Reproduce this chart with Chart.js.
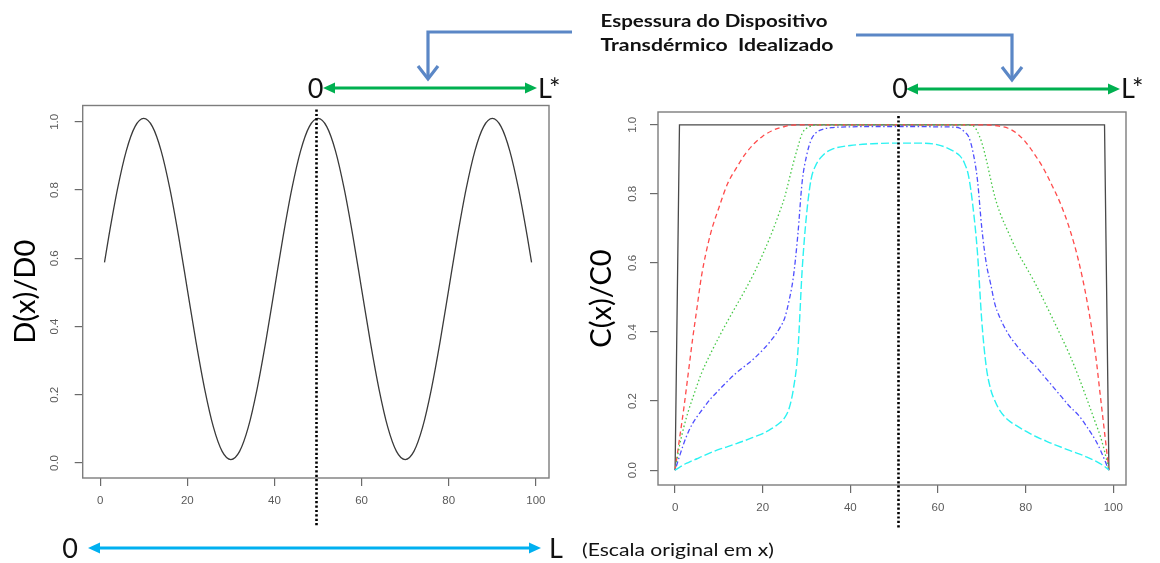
<!DOCTYPE html>
<html>
<head>
<meta charset="utf-8">
<script src="https://cdn.jsdelivr.net/npm/chart.js@4.4.1/dist/chart.umd.min.js"></script>
<style>
  html, body { margin: 0; padding: 0; background: #fff; }
  #wrap { position: relative; width: 1160px; height: 563px; overflow: hidden; background: #fff; }
  #wrap canvas, #wrap svg { position: absolute; left: 0; top: 0; }
  .ann { font-family: Lato, "Open Sans", sans-serif; fill: #111; }
</style>
</head>
<body>
<div id="wrap">
  <canvas id="chartD" width="1160" height="563"></canvas>
  <canvas id="chartC" width="1160" height="563"></canvas>
  <svg width="1160" height="563" viewBox="0 0 1160 563">
    <!-- caption with elbow connectors -->
    <text class="ann" x="714" y="27" text-anchor="middle" font-weight="700" font-size="16.5" textLength="227" lengthAdjust="spacingAndGlyphs">Espessura do Dispositivo</text>
    <text class="ann" x="717" y="51" text-anchor="middle" font-weight="700" font-size="16.5" textLength="233" lengthAdjust="spacingAndGlyphs" style="white-space:pre">Transdérmico  Idealizado</text>
    <g fill="none" stroke="#5b87c6" stroke-width="3.2" stroke-linejoin="miter">
      <polyline points="572,32 428,32 428,78"/>
      <polyline points="418,66 428,79 438,66"/>
      <polyline points="856,35 1012,35 1012,78"/>
      <polyline points="1002,67 1012,80 1022,67"/>
    </g>
    <!-- scaled thickness 0 .. L* -->
    <g stroke="#00b050" stroke-width="3" fill="#00b050">
      <line x1="332" y1="88" x2="528" y2="88"/>
      <polygon stroke="none" points="323,88 335,82.5 335,93.5"/>
      <polygon stroke="none" points="537,88 525,82.5 525,93.5"/>
      <line x1="915" y1="89" x2="1111" y2="89"/>
      <polygon stroke="none" points="906,89 918,83.5 918,94.5"/>
      <polygon stroke="none" points="1120,89 1108,83.5 1108,94.5"/>
    </g>
    <text class="ann" x="315.5" y="98" text-anchor="middle" font-size="27">0</text>
    <text class="ann" x="538" y="98" font-size="27">L*</text>
    <text class="ann" x="900" y="98" text-anchor="middle" font-size="27">0</text>
    <text class="ann" x="1121" y="98" font-size="27">L*</text>
    <!-- original scale 0 .. L -->
    <g stroke="#00b0f0" stroke-width="3" fill="#00b0f0">
      <line x1="97" y1="548" x2="532" y2="548"/>
      <polygon stroke="none" points="88,548 100,542.5 100,553.5"/>
      <polygon stroke="none" points="541,548 529,542.5 529,553.5"/>
    </g>
    <text class="ann" x="70" y="558" text-anchor="middle" font-size="27">0</text>
    <text class="ann" x="549" y="558" font-size="27">L</text>
    <text class="ann" x="582" y="556" font-size="17.5" textLength="192" lengthAdjust="spacingAndGlyphs">(Escala original em x)</text>
  </svg>
</div>
<script>
// Relative diffusivity D(x)/D0 along the device
const xD = [1, 2, 4, 6, 8, 10, 12, 14, 16, 18, 20, 22, 24, 26, 28, 30, 32, 34, 36, 38, 40,
            42, 44, 46, 48, 50, 52, 54, 56, 58, 60, 62, 64, 66, 68, 70, 72, 74, 76, 78, 80,
            82, 84, 86, 88, 90, 92, 94, 96, 98, 99];
const dRatio = [0.588, 0.665, 0.804, 0.915, 0.986, 1.01, 0.986, 0.915, 0.804, 0.665, 0.51,
                0.355, 0.216, 0.105, 0.034, 0.01, 0.034, 0.105, 0.216, 0.355, 0.51,
                0.665, 0.804, 0.915, 0.986, 1.01, 0.986, 0.915, 0.804, 0.665, 0.51,
                0.355, 0.216, 0.105, 0.034, 0.01, 0.034, 0.105, 0.216, 0.355, 0.51,
                0.665, 0.804, 0.915, 0.986, 1.01, 0.986, 0.915, 0.804, 0.665, 0.588];

// Concentration profiles C(x)/C0 at successive times
const xC = [0, 1, 2, 3, 4, 5, 6, 8, 10, 12, 14, 16, 18, 20, 22, 24, 25, 26, 27, 28, 29, 30, 31, 32,
            34, 36, 40, 45, 50, 55, 60, 64, 65, 66, 67, 68, 69, 70, 71, 72, 73, 74, 76, 78, 80,
            82, 84, 86, 88, 90, 92, 94, 96, 97, 98, 99];
const cRed = [0, 0.09, 0.18, 0.28, 0.38, 0.47, 0.56,
              0.68, 0.76, 0.83, 0.875, 0.915, 0.945, 0.967, 0.982, 0.992, 0.995, 0.998, 0.999, 1, 1, 1, 1, 1,
              1, 1, 1, 1, 1, 1, 1,
              1, 1, 1, 1, 1, 1, 1, 1, 0.999, 0.998, 0.996, 0.99, 0.975, 0.95,
              0.915, 0.875, 0.825, 0.77, 0.70, 0.61, 0.49, 0.33, 0.22, 0.11, 0];
const cGreen = [0, 0.07, 0.125, 0.17, 0.208, 0.245, 0.28,
                0.335, 0.385, 0.432, 0.477, 0.522, 0.57, 0.625, 0.685, 0.753, 0.79, 0.84, 0.89, 0.935, 0.975, 0.99, 0.996, 0.999,
                1, 1, 1, 1, 1, 1, 1,
                1, 1, 1, 0.999, 0.997, 0.98, 0.948, 0.9, 0.843, 0.79, 0.75, 0.69, 0.635, 0.59,
                0.545, 0.495, 0.443, 0.39, 0.335, 0.273, 0.205, 0.135, 0.1, 0.055, 0];
const cBlue = [0, 0.04, 0.078, 0.11, 0.135, 0.155, 0.172,
               0.205, 0.232, 0.258, 0.282, 0.302, 0.323, 0.348, 0.377, 0.414, 0.44, 0.49, 0.56, 0.68, 0.835, 0.91, 0.955, 0.975,
               0.988, 0.992, 0.994, 0.995, 0.995, 0.995, 0.994,
               0.993, 0.99, 0.98, 0.965, 0.92, 0.84, 0.70, 0.6, 0.54, 0.48, 0.445, 0.395, 0.36, 0.33,
               0.305, 0.275, 0.245, 0.215, 0.185, 0.16, 0.125, 0.085, 0.06, 0.03, 0];
const cCyan = [0, 0.008, 0.016, 0.022, 0.028, 0.033, 0.039,
               0.05, 0.06, 0.068, 0.077, 0.086, 0.096, 0.106, 0.12, 0.138, 0.152, 0.178, 0.235, 0.34, 0.58, 0.74, 0.84, 0.88,
               0.915, 0.93, 0.94, 0.945, 0.947, 0.947, 0.942,
               0.92, 0.91, 0.89, 0.85, 0.76, 0.63, 0.43, 0.3, 0.235, 0.2, 0.175, 0.145, 0.128, 0.113,
               0.099, 0.088, 0.077, 0.067, 0.057, 0.048, 0.038, 0.026, 0.019, 0.011, 0];
// initial (loaded) profile
const stepX = [0, 1, 98, 99];
const stepY = [0, 1, 1, 0];

// axes
const xTicks = [0, 20, 40, 60, 80, 100];
const yTicks = [0, 0.2, 0.4, 0.6, 0.8, 1.0];
const yTickLabels = ['0.0', '0.2', '0.4', '0.6', '0.8', '1.0'];

const pts = (xs, ys) => xs.map((x, i) => ({ x: x, y: ys[i] }));
const AXIS_FONT = '"Liberation Sans", Arial, sans-serif';

// Frame, rotated y tick labels and the dotted centre marker
const framePlugin = {
  id: 'frame',
  afterDatasetsDraw(chart, args, opts) {
    const { ctx, chartArea: a, scales } = chart;
    ctx.save();
    ctx.strokeStyle = '#7d7d7d';
    ctx.lineWidth = 1.4;
    ctx.strokeRect(a.left, a.top, a.right - a.left, a.bottom - a.top);

    ctx.fillStyle = '#5a5a5a';
    ctx.font = '11.5px ' + AXIS_FONT;
    ctx.textAlign = 'center';
    ctx.textBaseline = 'middle';
    yTicks.forEach((v, i) => {
      const py = scales.y.getPixelForValue(v);
      ctx.save();
      ctx.translate(a.left - opts.labelGap, py);
      ctx.rotate(-Math.PI / 2);
      ctx.fillText(yTickLabels[i], 0, 0);
      ctx.restore();
    });

    const px = Math.round(scales.x.getPixelForValue(opts.markX)) + 0.5;
    ctx.strokeStyle = '#000';
    ctx.lineWidth = 2.6;
    ctx.setLineDash([2.2, 2.2]);
    ctx.beginPath();
    ctx.moveTo(px, a.top + 4);
    ctx.lineTo(px, a.bottom + opts.markBelow);
    ctx.stroke();
    ctx.restore();
  }
};

function axes(xr, yr, yTitle, yAxisWidth, titlePad) {
  const grid = { drawOnChartArea: false, drawTicks: true, tickLength: 8, color: '#6a6a6a', lineWidth: 1.2 };
  return {
    x: {
      type: 'linear', min: xr[0], max: xr[1],
      afterBuildTicks: s => { s.ticks = xTicks.map(v => ({ value: v })); },
      afterFit: s => { s.height = 40; },
      grid: grid,
      border: { display: false },
      ticks: { color: '#5a5a5a', font: { size: 11.5, family: AXIS_FONT }, padding: 8,
               maxRotation: 0, autoSkip: false, callback: v => String(v) }
    },
    y: {
      type: 'linear', min: yr[0], max: yr[1],
      afterBuildTicks: s => { s.ticks = yTicks.map(v => ({ value: v })); },
      afterFit: s => { s.width = yAxisWidth; },
      grid: grid,
      border: { display: false },
      ticks: { display: false },
      title: { display: true, text: yTitle, color: '#000',
               font: { family: 'Lato', size: 29 }, padding: { top: titlePad, bottom: 0 } }
    }
  };
}

const common = {
  responsive: false,
  animation: false,
  devicePixelRatio: 1,
  events: [],
  plugins: { legend: { display: false }, tooltip: { enabled: false } },
  elements: { point: { radius: 0 } }
};

new Chart(document.getElementById('chartD'), {
  type: 'line',
  data: {
    datasets: [{
      data: pts(xD, dRatio), borderColor: '#3a3a3a', borderWidth: 1.3,
      cubicInterpolationMode: 'monotone', fill: false
    }]
  },
  options: Object.assign({}, common, {
    layout: { padding: { left: 0, top: 105.5, right: 611, bottom: 45 } },
    scales: axes([-4, 103], [-0.044, 1.048], 'D(x)/D0', 82.7, 8),
    plugins: Object.assign({}, common.plugins, { frame: { labelGap: 28, markX: 49.6, markBelow: 49 } })
  }),
  plugins: [framePlugin]
});

new Chart(document.getElementById('chartC'), {
  type: 'line',
  data: {
    datasets: [
      { data: pts(stepX, stepY), borderColor: '#4a4a4a', borderWidth: 1.3, tension: 0, order: 5 },
      { data: pts(xC, cRed), borderColor: '#ff4a4a', borderWidth: 1.3, borderDash: [5, 3.5],
        cubicInterpolationMode: 'monotone', order: 4 },
      { data: pts(xC, cGreen), borderColor: '#45c845', borderWidth: 1.3, borderDash: [1.5, 2.5],
        cubicInterpolationMode: 'monotone', order: 3 },
      { data: pts(xC, cBlue), borderColor: '#4f4fff', borderWidth: 1.3, borderDash: [1.5, 2.5, 5, 2.5],
        cubicInterpolationMode: 'monotone', order: 2 },
      { data: pts(xC, cCyan), borderColor: '#2cf2f2', borderWidth: 1.4, borderDash: [8, 3],
        cubicInterpolationMode: 'monotone', order: 1 }
    ]
  },
  options: Object.assign({}, common, {
    layout: { padding: { left: 576, top: 112, right: 34, bottom: 38 } },
    scales: axes([-3.9, 102.9], [-0.043, 1.037], 'C(x)/C0', 82, 8),
    plugins: Object.assign({}, common.plugins, { frame: { labelGap: 25, markX: 50.9, markBelow: 43 } })
  }),
  plugins: [framePlugin]
});
</script>
</body>
</html>
